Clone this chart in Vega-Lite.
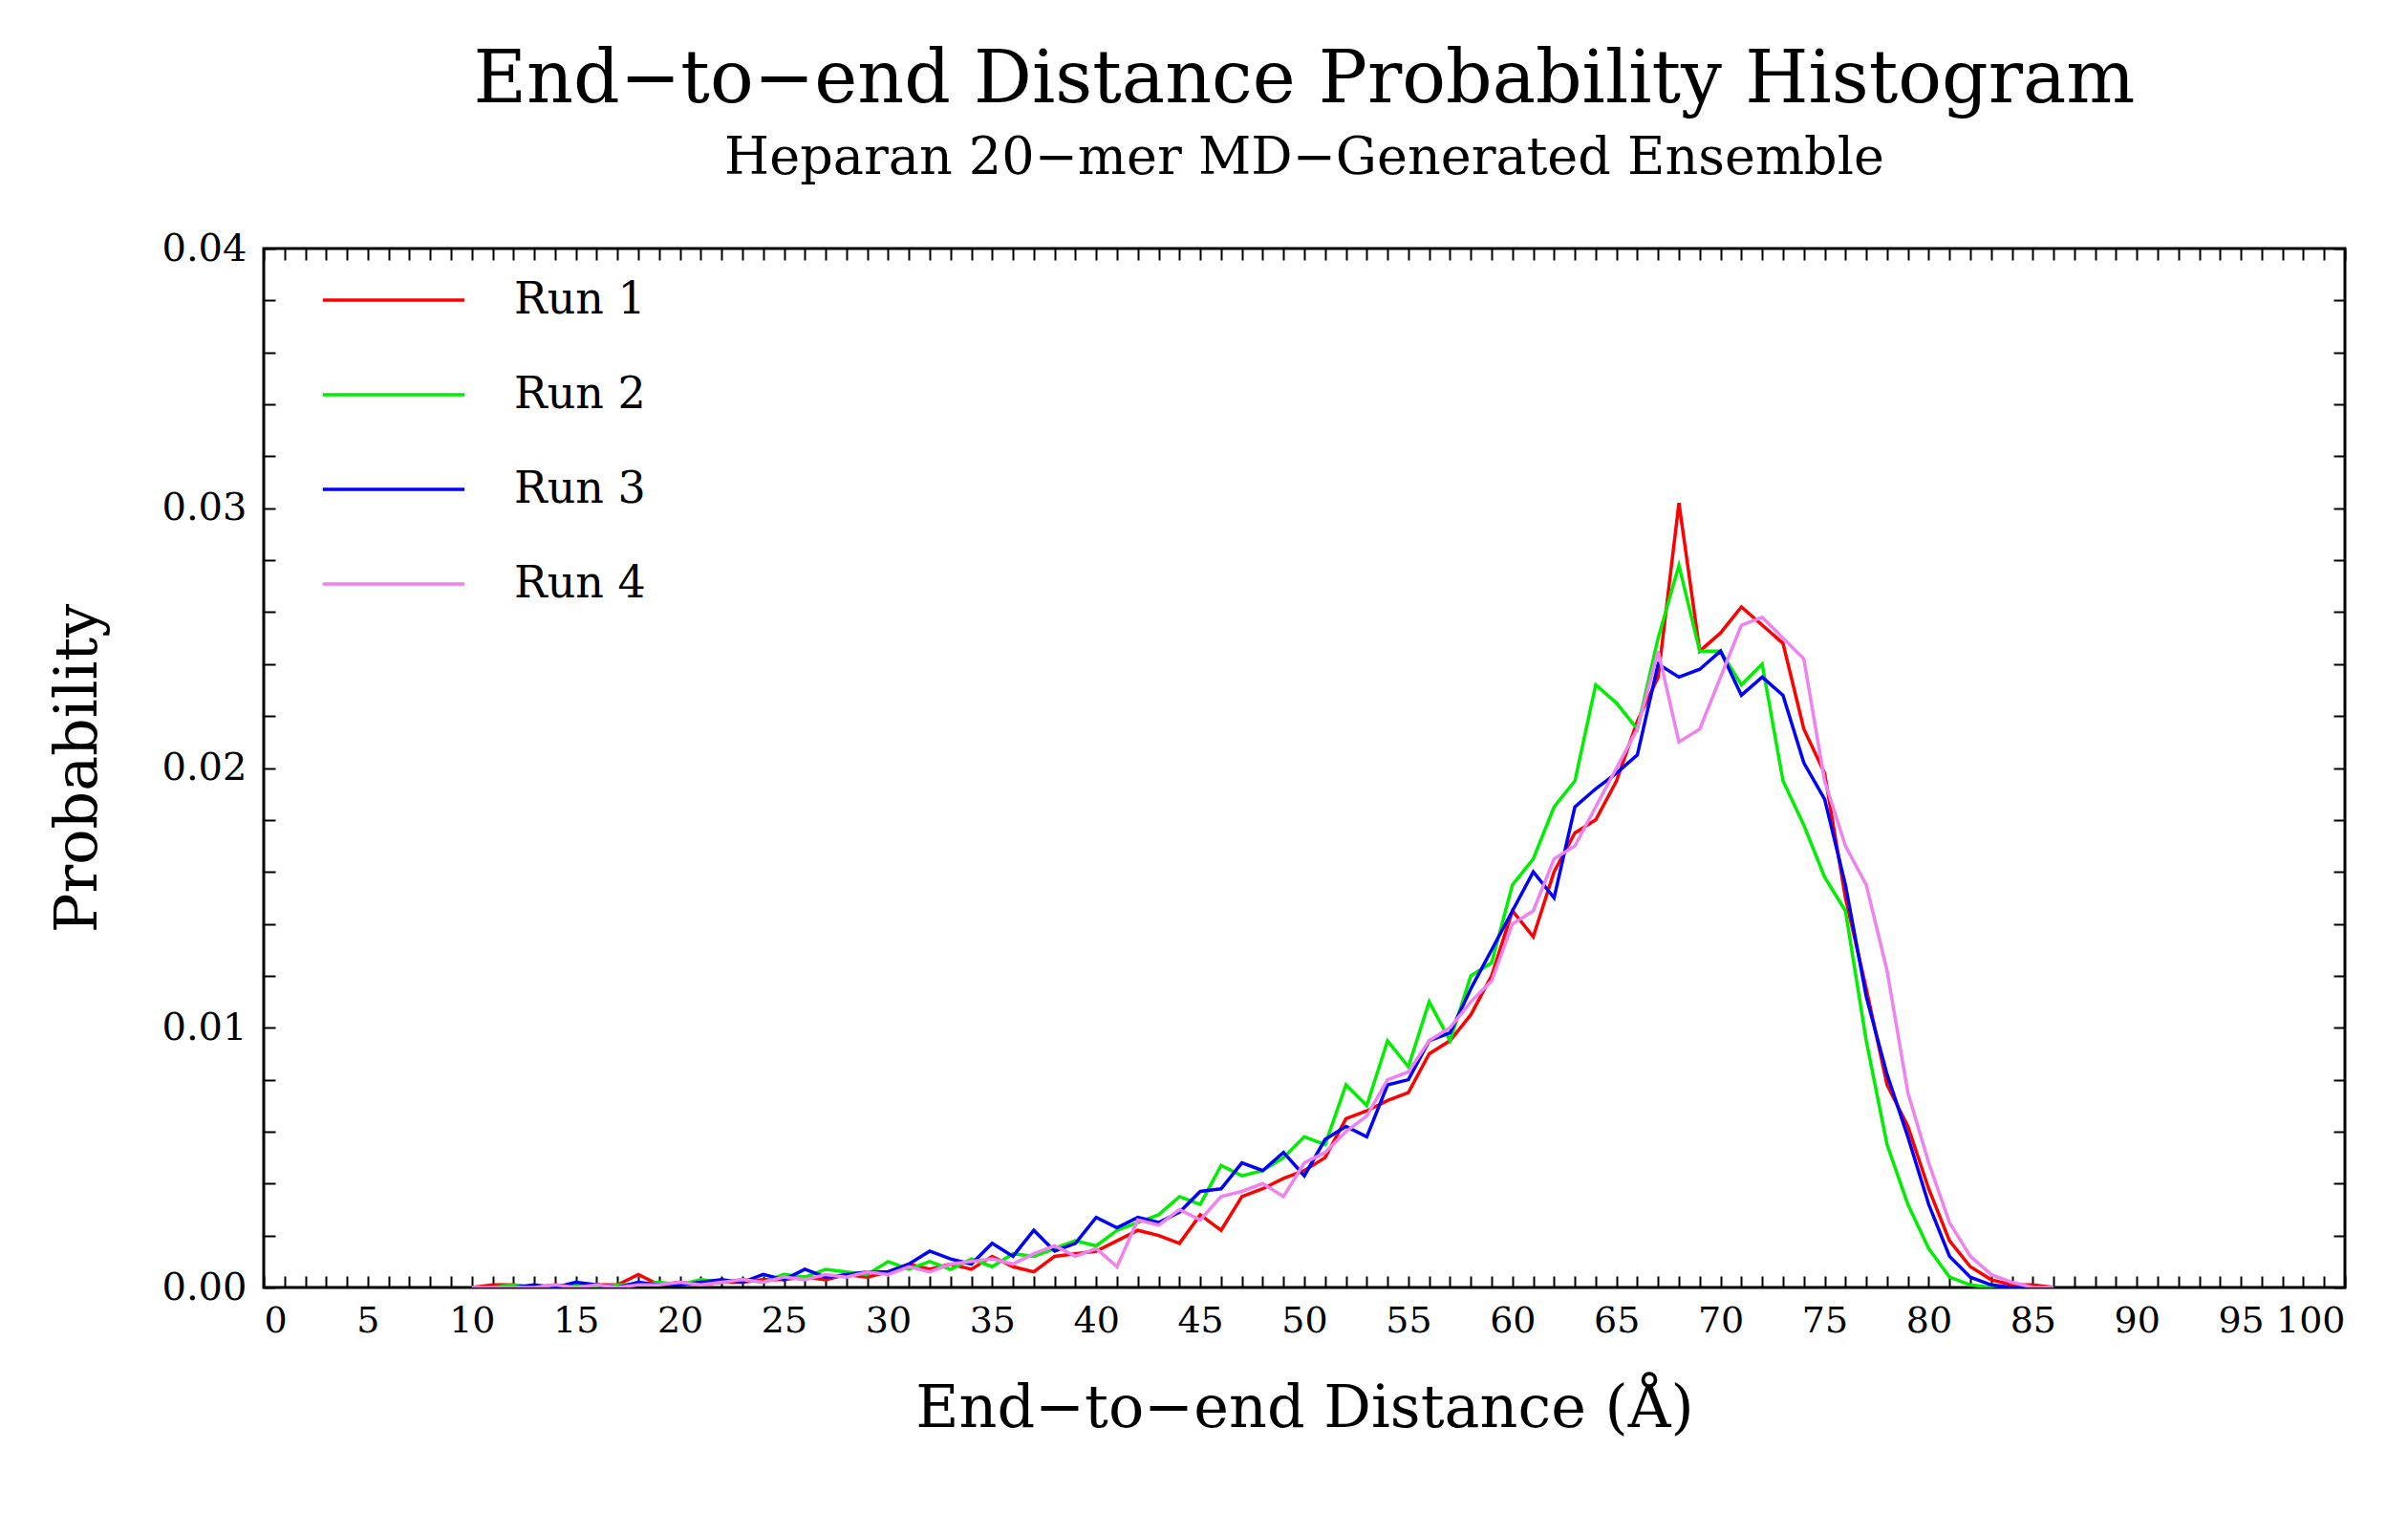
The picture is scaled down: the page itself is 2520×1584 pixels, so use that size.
{
  "$schema": "https://vega.github.io/schema/vega-lite/v6.json",
  "autosize": "none",
  "width": 2178,
  "height": 1087,
  "padding": {"left": 276, "top": 260, "right": 66, "bottom": 237},
  "background": "white",
  "config": {"font": "DejaVu Serif", "view": {"stroke": "black", "strokeWidth": 3}},
  "title": {
    "text": "End−to−end Distance Probability Histogram",
    "subtitle": "Heparan 20−mer MD−Generated Ensemble",
    "fontSize": 76, "fontWeight": "normal", "subtitleFontSize": 54,
    "subtitlePadding": 16, "offset": 44, "color": "black", "subtitleColor": "black"
  },
  "data": {"values": [
    {"d":10,"a":0,"b":0,"c":0,"e":0},
    {"d":11,"a":0.0001,"b":0,"c":0,"e":0},
    {"d":12,"a":0.0001,"b":0.0001,"c":0,"e":0},
    {"d":13,"a":0,"b":0,"c":0.0001,"e":0},
    {"d":14,"a":0.0001,"b":0,"c":0,"e":0.0001},
    {"d":15,"a":0,"b":0.0001,"c":0.0002,"e":0},
    {"d":16,"a":0.0001,"b":0,"c":0.0001,"e":0.0001},
    {"d":17,"a":0.0001,"b":0.0001,"c":0,"e":0},
    {"d":18,"a":0.0005,"b":0.0001,"c":0.0002,"e":0.0001},
    {"d":19,"a":0.0001,"b":0.0002,"c":0.0001,"e":0.0001},
    {"d":20,"a":0.0002,"b":0.0001,"c":0.0001,"e":0.0002},
    {"d":21,"a":0.0001,"b":0.0003,"c":0.0002,"e":0.0001},
    {"d":22,"a":0.0002,"b":0.0002,"c":0.0003,"e":0.0002},
    {"d":23,"a":0.0002,"b":0.0003,"c":0.0002,"e":0.0003},
    {"d":24,"a":0.0003,"b":0.0002,"c":0.0005,"e":0.0002},
    {"d":25,"a":0.0003,"b":0.0005,"c":0.0003,"e":0.0004},
    {"d":26,"a":0.0004,"b":0.0004,"c":0.0007,"e":0.0003},
    {"d":27,"a":0.0003,"b":0.0007,"c":0.0004,"e":0.0005},
    {"d":28,"a":0.0005,"b":0.0006,"c":0.0005,"e":0.0004},
    {"d":29,"a":0.0004,"b":0.0005,"c":0.0006,"e":0.0006},
    {"d":30,"a":0.0006,"b":0.001,"c":0.0006,"e":0.0005},
    {"d":31,"a":0.0009,"b":0.0007,"c":0.0009,"e":0.0008},
    {"d":32,"a":0.0007,"b":0.001,"c":0.0014,"e":0.0006},
    {"d":33,"a":0.0009,"b":0.0007,"c":0.0011,"e":0.0009},
    {"d":34,"a":0.0007,"b":0.0011,"c":0.0009,"e":0.001},
    {"d":35,"a":0.0012,"b":0.0008,"c":0.0017,"e":0.0011},
    {"d":36,"a":0.0008,"b":0.0013,"c":0.0012,"e":0.0009},
    {"d":37,"a":0.0006,"b":0.0012,"c":0.0022,"e":0.0013},
    {"d":38,"a":0.0012,"b":0.0015,"c":0.0014,"e":0.0016},
    {"d":39,"a":0.0013,"b":0.0018,"c":0.0017,"e":0.0012},
    {"d":40,"a":0.0014,"b":0.0016,"c":0.0027,"e":0.0015},
    {"d":41,"a":0.0018,"b":0.0022,"c":0.0023,"e":0.0008},
    {"d":42,"a":0.0022,"b":0.0025,"c":0.0027,"e":0.0026},
    {"d":43,"a":0.002,"b":0.0028,"c":0.0025,"e":0.0024},
    {"d":44,"a":0.0017,"b":0.0035,"c":0.0029,"e":0.003},
    {"d":45,"a":0.0028,"b":0.0032,"c":0.0037,"e":0.0026},
    {"d":46,"a":0.0022,"b":0.0047,"c":0.0038,"e":0.0035},
    {"d":47,"a":0.0035,"b":0.0043,"c":0.0048,"e":0.0037},
    {"d":48,"a":0.0038,"b":0.0045,"c":0.0045,"e":0.004},
    {"d":49,"a":0.0042,"b":0.005,"c":0.0052,"e":0.0035},
    {"d":50,"a":0.0045,"b":0.0058,"c":0.0043,"e":0.0048},
    {"d":51,"a":0.005,"b":0.0055,"c":0.0057,"e":0.0052},
    {"d":52,"a":0.0065,"b":0.0078,"c":0.0062,"e":0.006},
    {"d":53,"a":0.0068,"b":0.007,"c":0.0058,"e":0.0066},
    {"d":54,"a":0.0072,"b":0.0095,"c":0.0078,"e":0.008},
    {"d":55,"a":0.0075,"b":0.0085,"c":0.008,"e":0.0083},
    {"d":56,"a":0.009,"b":0.011,"c":0.0095,"e":0.0095},
    {"d":57,"a":0.0095,"b":0.0095,"c":0.0098,"e":0.01},
    {"d":58,"a":0.0105,"b":0.012,"c":0.0115,"e":0.011},
    {"d":59,"a":0.012,"b":0.0125,"c":0.013,"e":0.0118},
    {"d":60,"a":0.0145,"b":0.0155,"c":0.0145,"e":0.014},
    {"d":61,"a":0.0135,"b":0.0165,"c":0.016,"e":0.0145},
    {"d":62,"a":0.016,"b":0.0185,"c":0.015,"e":0.0165},
    {"d":63,"a":0.0175,"b":0.0195,"c":0.0185,"e":0.017},
    {"d":64,"a":0.018,"b":0.0232,"c":0.0192,"e":0.0185},
    {"d":65,"a":0.0195,"b":0.0225,"c":0.0198,"e":0.02},
    {"d":66,"a":0.0218,"b":0.0215,"c":0.0205,"e":0.0215},
    {"d":67,"a":0.0235,"b":0.025,"c":0.024,"e":0.0245},
    {"d":68,"a":0.0302,"b":0.0278,"c":0.0235,"e":0.021},
    {"d":69,"a":0.0245,"b":0.0245,"c":0.0238,"e":0.0215},
    {"d":70,"a":0.0252,"b":0.0245,"c":0.0245,"e":0.0235},
    {"d":71,"a":0.0262,"b":0.0232,"c":0.0228,"e":0.0255},
    {"d":72,"a":0.0255,"b":0.024,"c":0.0235,"e":0.0258},
    {"d":73,"a":0.0248,"b":0.0195,"c":0.0228,"e":0.025},
    {"d":74,"a":0.0215,"b":0.0178,"c":0.0202,"e":0.0242},
    {"d":75,"a":0.0198,"b":0.0158,"c":0.0188,"e":0.0195},
    {"d":76,"a":0.015,"b":0.0145,"c":0.0155,"e":0.017},
    {"d":77,"a":0.0115,"b":0.0095,"c":0.0112,"e":0.0155},
    {"d":78,"a":0.0078,"b":0.0055,"c":0.0082,"e":0.0122},
    {"d":79,"a":0.0062,"b":0.0032,"c":0.0058,"e":0.0075},
    {"d":80,"a":0.0038,"b":0.0015,"c":0.0032,"e":0.0048},
    {"d":81,"a":0.0018,"b":0.0004,"c":0.0012,"e":0.0025},
    {"d":82,"a":0.0008,"b":0.0001,"c":0.0004,"e":0.0012},
    {"d":83,"a":0.0003,"b":0,"c":0.0001,"e":0.0005},
    {"d":84,"a":0.0001,"b":0,"c":0,"e":0.0002},
    {"d":85,"a":0.0001,"b":0,"c":0,"e":0},
    {"d":86,"a":0,"b":0,"c":0,"e":0}
  ]},
  "transform": [
    {"fold": ["a", "b", "c", "e"], "as": ["k", "p"]},
    {"lookup": "k", "from": {"data": {"values": [
      {"k": "a", "run": "Run 1"}, {"k": "b", "run": "Run 2"},
      {"k": "c", "run": "Run 3"}, {"k": "e", "run": "Run 4"}
    ]}, "key": "k", "fields": ["run"]}}
  ],
  "layer": [
    {
      "mark": {"type": "line", "strokeWidth": 3.5, "clip": true},
      "encoding": {
        "x": {"field": "d", "type": "quantitative", "scale": {"domain": [0, 100], "nice": false},
          "axis": {"orient": "bottom", "title": "End−to−end Distance (Å)", "tickCount": 100,
            "labelExpr": "datum.value % 5 == 0 ? datum.label : ''", "labelOverlap": false,
            "grid": false, "tickSize": -12, "tickColor": "black", "tickWidth": 2, "domain": false,
            "labelFontSize": 38, "labelColor": "black", "labelPadding": 28,
            "titleFontSize": 62, "titleFontWeight": "normal", "titleColor": "black", "titlePadding": 42}},
        "y": {"field": "p", "type": "quantitative", "scale": {"domain": [0, 0.04], "nice": false},
          "axis": {"orient": "left", "title": "Probability", "tickCount": 20, "format": ".2f",
            "labelExpr": "abs(datum.value*100 - round(datum.value*100)) < 0.001 ? datum.label : ''",
            "labelOverlap": false, "grid": false, "tickSize": -12, "tickColor": "black", "tickWidth": 2,
            "domain": false, "labelFontSize": 40, "labelColor": "black", "labelPadding": 30,
            "titleFontSize": 62, "titleFontWeight": "normal", "titleColor": "black", "titlePadding": 55}},
        "color": {"field": "run", "type": "nominal",
          "scale": {"domain": ["Run 1", "Run 2", "Run 3", "Run 4"], "range": ["#ff0000", "#00ee00", "#0000ff", "#ee82ee"]},
          "legend": {"orient": "none", "legendX": 60, "legendY": -22, "title": null,
            "symbolType": "stroke", "symbolSize": 22000, "symbolStrokeWidth": 3.5,
            "labelFontSize": 46, "labelColor": "black", "rowPadding": -94, "labelOffset": 50}}
      }
    },
    {
      "mark": {"type": "rule", "opacity": 0},
      "encoding": {
        "x": {"datum": 0, "type": "quantitative",
          "axis": {"orient": "top", "title": null, "labels": false, "tickCount": 100, "grid": false,
            "tickSize": -12, "tickColor": "black", "tickWidth": 2, "domain": false}},
        "y": {"datum": 0, "type": "quantitative",
          "axis": {"orient": "right", "title": null, "labels": false, "tickCount": 20, "grid": false,
            "tickSize": -12, "tickColor": "black", "tickWidth": 2, "domain": false}}
      }
    }
  ]
}
